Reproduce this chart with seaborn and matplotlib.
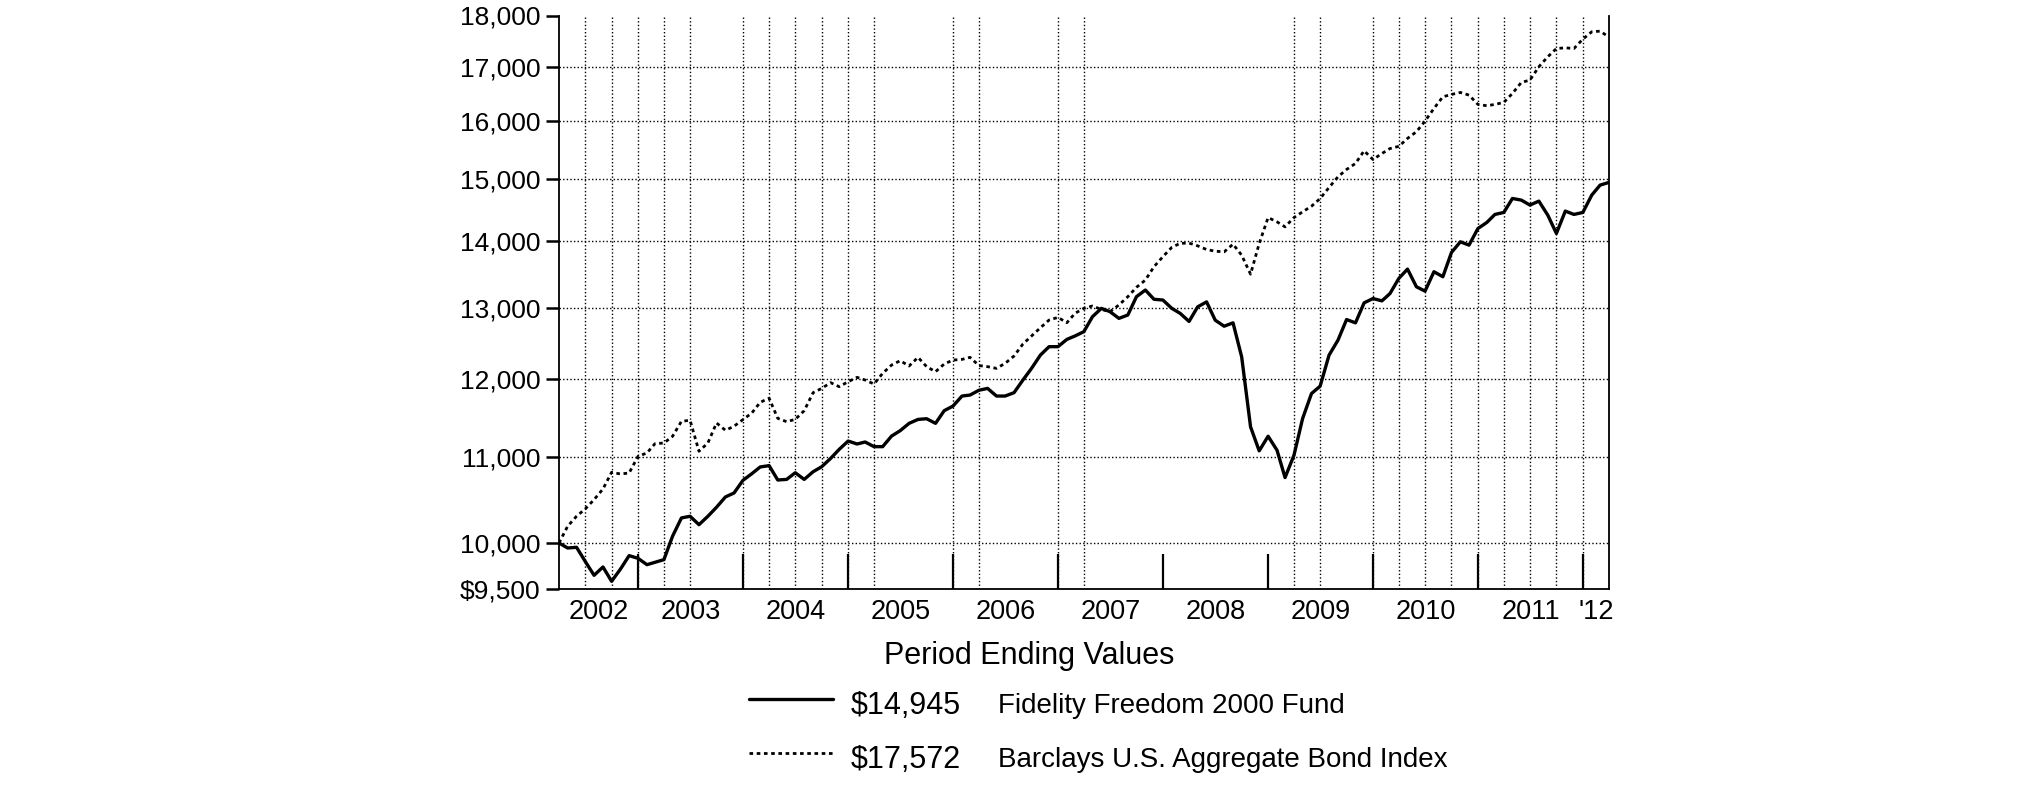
import pandas as pd
import matplotlib.pyplot as plt
import matplotlib.ticker as mticker
from matplotlib.lines import Line2D
import seaborn as sns

# Month-end values of a hypothetical $10,000 investment, Mar 2002 - Mar 2012
months = pd.date_range('2002-03-31', '2012-03-31', freq='ME')

fund_name = 'Fidelity Freedom 2000 Fund'
fund_values = [
    10000, 9944, 9952, 9798, 9646, 9736, 9582, 9714, 9860, 9830,
    9761, 9787, 9816, 10075, 10283, 10302, 10206, 10302, 10406, 10526,
    10573, 10723, 10803, 10884, 10900, 10727, 10734, 10814, 10734, 10826,
    10887, 10988, 11100, 11203, 11166, 11191, 11133, 11133, 11265, 11333,
    11426, 11476, 11485, 11426, 11588, 11649, 11779, 11792, 11855, 11880,
    11779, 11779, 11823, 11991, 12148, 12330, 12445, 12445, 12547, 12594,
    12655, 12868, 12988, 12940, 12844, 12892, 13158, 13256, 13120, 13109,
    12988, 12916, 12800, 13010, 13082, 12818, 12732, 12780, 12305, 11381,
    11081, 11263, 11089, 10756, 11027, 11487, 11812, 11909, 12328, 12535,
    12827, 12780, 13068, 13131, 13097, 13204, 13430, 13569, 13304, 13240,
    13529, 13454, 13823, 13988, 13936, 14197, 14293, 14421, 14453, 14680,
    14653, 14572, 14637, 14410, 14119, 14475, 14421, 14453, 14735, 14900,
    14945,
]

index_name = 'Barclays U.S. Aggregate Bond Index'
index_values = [
    10000, 10188, 10302, 10386, 10495, 10620, 10819, 10799, 10811, 11014,
    11055, 11170, 11178, 11262, 11452, 11465, 11076, 11179, 11431, 11338,
    11389, 11474, 11559, 11697, 11750, 11490, 11447, 11477, 11588, 11823,
    11880, 11956, 11902, 11969, 12027, 11991, 11938, 12081, 12193, 12252,
    12180, 12298, 12171, 12103, 12207, 12261, 12270, 12298, 12186, 12171,
    12148, 12216, 12316, 12482, 12594, 12711, 12820, 12858, 12782, 12916,
    12988, 13022, 12973, 12940, 13037, 13158, 13296, 13404, 13605, 13758,
    13902, 13964, 13968, 13925, 13868, 13842, 13832, 13951, 13781, 13492,
    13961, 14371, 14302, 14223, 14371, 14463, 14554, 14679, 14861, 15038,
    15162, 15264, 15481, 15331, 15434, 15520, 15558, 15696, 15813, 16002,
    16229, 16441, 16484, 16521, 16472, 16302, 16278, 16302, 16338, 16503,
    16706, 16750, 17001, 17191, 17350, 17363, 17350, 17532, 17676, 17689,
    17572,
]

y_ticks = [9500, 10000, 11000, 12000, 13000, 14000, 15000, 16000, 17000, 18000]
y_tick_labels = ['$9,500', '10,000', '11,000', '12,000', '13,000',
                 '14,000', '15,000', '16,000', '17,000', '18,000']
year_labels = ['2002', '2003', '2004', '2005', '2006', '2007',
               '2008', '2009', '2010', '2011', "'12"]
# quarter-end gridlines visible in the original
grid_dates = ['2002-06-30', '2002-09-30', '2003-01-01', '2003-03-31', '2003-06-30',
              '2004-01-01', '2004-03-31', '2004-06-30', '2004-09-30', '2005-01-01',
              '2005-03-31', '2006-01-01', '2006-03-31', '2007-01-01', '2007-03-31',
              '2009-03-31', '2009-06-30', '2010-01-01', '2010-03-31', '2010-06-30',
              '2010-09-30', '2011-01-01', '2011-03-31', '2011-06-30', '2011-09-30',
              '2012-01-01']

df = pd.DataFrame({'date': months, 'fund': fund_values, 'index': index_values})

sns.set_theme(style='white')
plt.rcParams['font.family'] = ['Liberation Sans', 'DejaVu Sans']
plt.rcParams['text.color'] = 'black'

fig = plt.figure(figsize=(20.25, 8.06), dpi=100)
ax = fig.add_axes([559 / 2025, 217 / 806, 1050 / 2025, 573.5 / 806])

sns.lineplot(data=df, x='date', y='index', ax=ax, color='black',
             linewidth=2.0, linestyle=(0, (1.3, 1.3)), zorder=3)
sns.lineplot(data=df, x='date', y='fund', ax=ax, color='black',
             linewidth=2.4, zorder=4)

ax.set_yscale('log')
ax.set_ylim(9500, 18000)
ax.yaxis.set_minor_locator(mticker.NullLocator())
ax.set_yticks(y_ticks)
ax.set_yticklabels(y_tick_labels)
ax.tick_params(axis='y', which='major', direction='out', length=9.5, width=1.8,
               pad=4, labelsize=19, colors='black', left=True)

ax.set_xlim(months[0], months[-1])
year_bounds = [pd.Timestamp(f'{y}-01-01') for y in range(2003, 2013)]
edges = [months[0]] + year_bounds + [months[-1]]
label_pos = [a + (b - a) / 2 for a, b in zip(edges[:-1], edges[1:])]
ax.set_xticks(year_bounds)
ax.set_xticklabels([])
ax.set_xticks(label_pos, minor=True)
ax.set_xticklabels(year_labels, minor=True)
ax.tick_params(axis='x', which='major', direction='in', length=25, width=1.6,
               color='black', bottom=True)
ax.tick_params(axis='x', which='minor', length=0, pad=7, labelsize=19.5,
               colors='black', bottom=True)

for v in y_ticks[1:-1]:
    ax.axhline(v, color='black', linewidth=1.0, linestyle=(0, (1, 1.6)), zorder=1)
for d in grid_dates:
    ax.axvline(pd.Timestamp(d), color='black', linewidth=1.0, linestyle=(0, (1, 1.6)), zorder=1)

ax.grid(False)
ax.spines['top'].set_visible(False)
for s in ['left', 'bottom', 'right']:
    ax.spines[s].set_color('black')
    ax.spines[s].set_linewidth(1.3)
ax.set_xlabel('')
ax.set_ylabel('')

# legend block below the chart
fig.text(1029 / 2025, 1 - 656 / 806, 'Period Ending Values', ha='center', va='center',
         fontsize=22, color='black')
fig.add_artist(Line2D([749 / 2025, 833 / 2025], [1 - 699 / 806] * 2,
                      transform=fig.transFigure, color='black', linewidth=2.4))
fig.add_artist(Line2D([749 / 2025, 833 / 2025], [1 - 753 / 806] * 2,
                      transform=fig.transFigure, color='black', linewidth=2.0,
                      linestyle=(0, (1.3, 1.3))))
fig.text(851 / 2025, 1 - 706 / 806, f'${fund_values[-1]:,}', ha='left', va='center',
         fontsize=22, color='black')
fig.text(851 / 2025, 1 - 760 / 806, f'${index_values[-1]:,}', ha='left', va='center',
         fontsize=22, color='black')
fig.text(998 / 2025, 1 - 706 / 806, fund_name, ha='left', va='center', fontsize=20, color='black')
fig.text(998 / 2025, 1 - 760 / 806, index_name, ha='left', va='center', fontsize=20, color='black')

fig.savefig('out.png', dpi=100)
